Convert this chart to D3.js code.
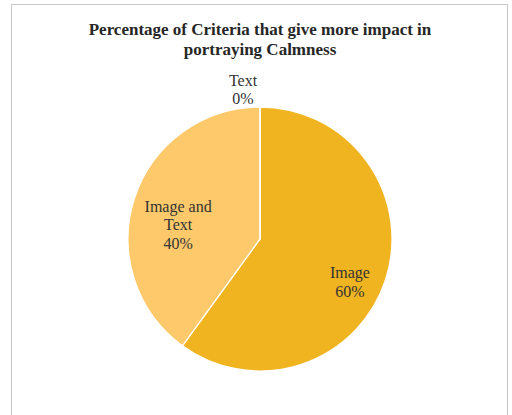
<!DOCTYPE html>
<html>
<head>
<meta charset="utf-8">
<script src="https://cdn.jsdelivr.net/npm/d3@7"></script>
<style>
  body { margin: 0; background: #fff; }
  svg { display: block; }
</style>
</head>
<body>
<div id="chart"></div>
<script>
const categories = ["Image", "Image and Text", "Text"];
const values = [60, 40, 0];
const labelLines = [["Image", "60%"], ["Image and", "Text", "40%"], ["Text", "0%"]];
const colors = ["#EFB41F", "#FDC96B", "#F5D08A"];

const W = 512, H = 415;
const cx = 260, cy = 239, r = 132;
const font = "'Liberation Serif', 'Times New Roman', serif";

const svg = d3.select("#chart").append("svg")
    .attr("width", W)
    .attr("height", H);

svg.append("rect")
    .attr("x", 11.5).attr("y", 4.5)
    .attr("width", 496).attr("height", 420)
    .attr("fill", "#fff")
    .attr("stroke", "#c8c8c8")
    .attr("stroke-width", 1);

const title = svg.append("text")
    .attr("x", 260)
    .attr("text-anchor", "middle")
    .style("font-family", font)
    .style("font-weight", "bold")
    .style("font-size", "17px")
    .attr("fill", "#262626");
title.append("tspan").attr("x", 260).attr("y", 35).text("Percentage of Criteria that give more impact in");
title.append("tspan").attr("x", 260).attr("y", 55).text("portraying Calmness");

const data = categories.map((c, i) => ({ name: c, value: values[i], lines: labelLines[i], color: colors[i] }));

const pie = d3.pie().sort(null).value(d => d.value);
const arc = d3.arc().innerRadius(0).outerRadius(r);
const arcs = pie(data);

const g = svg.append("g").attr("transform", `translate(${cx},${cy})`);

g.selectAll("path")
    .data(arcs)
    .enter()
    .append("path")
    .attr("d", arc)
    .attr("fill", d => d.data.color)
    .attr("stroke", "#fff")
    .attr("stroke-width", 1.3);

// best-fit style nudges from the slice centroid (Excel doesn't sit labels exactly on it)
const inner = d3.arc().innerRadius(r * 0.7).outerRadius(r * 0.7);
const nudge = [[2, 15], [6, 15], [-17, -57]];
const labelPos = arcs.map((d, i) => {
    const c = d.data.value === 0 ? [0, -r + 40] : inner.centroid(d);
    return [c[0] + nudge[i][0], c[1] + nudge[i][1]];
});

const lineH = 18.5;
const labels = g.selectAll(".lbl")
    .data(arcs)
    .enter()
    .append("text")
    .attr("class", "lbl")
    .attr("text-anchor", "middle")
    .style("font-family", font)
    .style("font-size", "16px")
    .attr("fill", "#333");

labels.each(function (d, i) {
    const n = d.data.lines.length;
    const [x, y] = labelPos[i];
    const t = d3.select(this);
    d.data.lines.forEach((ln, j) => {
        t.append("tspan")
            .attr("x", x)
            .attr("y", y + (j - (n - 1) / 2) * lineH + 5)
            .text(ln);
    });
});
</script>
</body>
</html>
